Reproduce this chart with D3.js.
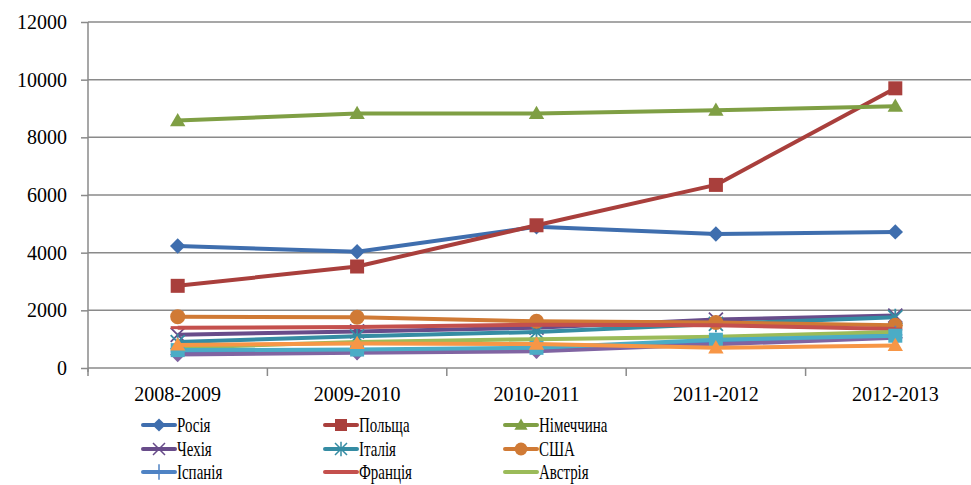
<!DOCTYPE html>
<html>
<head>
<meta charset="utf-8">
<script src="https://cdn.jsdelivr.net/npm/d3@7"></script>
<style>
  body { margin: 0; background: #fff; }
  svg { display: block; }
</style>
</head>
<body>
<div id="chart"></div>
<script>
// Years (categories)
const years = ["2008-2009", "2009-2010", "2010-2011", "2011-2012", "2012-2013"];
const yTicks = [0, 2000, 4000, 6000, 8000, 10000, 12000];

// Series names (last three rows of the legend are cut off in the picture)
const names = ["Росія", "Польща", "Німеччина", "Чехія", "Італія", "США",
               "Іспанія", "Франція", "Австрія", "", "", ""];

// Values per series
const russia  = [4230, 4030, 4900, 4650, 4720];
const poland  = [2850, 3520, 4950, 6350, 9700];
const germany = [8580, 8830, 8830, 8940, 9080];
const czech   = [1150, 1270, 1400, 1680, 1820];
const italy   = [ 900, 1100, 1250, 1530, 1760];
const usa     = [1780, 1760, 1620, 1580, 1480];
const spain   = [ 560,  600,  650,  900, 1150];
const france  = [1400, 1420, 1500, 1480, 1350];
const austria = [ 700,  900, 1000, 1080, 1250];
const extra10 = [ 470,  530,  580,  820, 1050];
const extra11 = [ 620,  640,  700,  980, 1120];
const extra12 = [ 800,  850,  830,  700,  780];

const values = [russia, poland, germany, czech, italy, usa,
                spain, france, austria, extra10, extra11, extra12];

const colors = ["#3F6EAE", "#A93F3C", "#7F9F44", "#684C8A", "#358CA3", "#D07A35",
                "#4F83C4", "#C4504D", "#9BBB59", "#8064A2", "#4BACC6", "#F79646"];
const markers = ["diamond", "square", "triangle", "x", "asterisk", "circle",
                 "plus", "dash", "none", "diamond", "square", "triangle"];

const width = 971, height = 485;
const margin = { left: 88, top: 22 };
const plotBottom = 368;
const bandW = 179.4;
const serif = "'Liberation Serif', 'Times New Roman', serif";

const svg = d3.select("#chart").append("svg")
  .attr("width", width)
  .attr("height", height);

const x = d3.scaleBand()
  .domain(years)
  .range([margin.left, margin.left + bandW * years.length]);

const y = d3.scaleLinear()
  .domain([0, 12000])
  .range([plotBottom, margin.top]);

const grey = "#8a8a8a";

// gridlines
svg.append("g")
  .selectAll("line")
  .data(yTicks.filter(d => d > 0))
  .join("line")
  .attr("x1", margin.left).attr("x2", width)
  .attr("y1", d => y(d)).attr("y2", d => y(d))
  .attr("stroke", grey).attr("stroke-width", 1.5);

// y axis
const yAxis = svg.append("g")
  .attr("transform", `translate(${margin.left},0)`)
  .call(d3.axisLeft(y).tickValues(yTicks).tickSize(7).tickPadding(14).tickFormat(d3.format("d")));
yAxis.select(".domain").attr("stroke", grey).attr("stroke-width", 1.5)
  .attr("d", `M0,${y(12000)}V${plotBottom + 4}`);
yAxis.selectAll(".tick line").attr("stroke", grey).attr("stroke-width", 1.5);
yAxis.selectAll(".tick text")
  .style("font-family", serif).style("font-size", "20px").attr("fill", "#000");

// x axis
const xAxis = svg.append("g")
  .attr("transform", `translate(0,${plotBottom})`)
  .call(d3.axisBottom(x).tickSize(0).tickPadding(19));
xAxis.select(".domain").attr("stroke", grey).attr("stroke-width", 1.5)
  .attr("d", `M${margin.left},0H${width}`);
xAxis.selectAll(".tick text")
  .style("font-family", serif).style("font-size", "20px").attr("fill", "#000");
// category boundary ticks
svg.append("g")
  .selectAll("line")
  .data(years)
  .join("line")
  .attr("x1", d => x(d)).attr("x2", d => x(d))
  .attr("y1", plotBottom).attr("y2", plotBottom + 8)
  .attr("stroke", grey).attr("stroke-width", 1.5);

const cx = d => x(d) + x.bandwidth() / 2;

function markerPath(type, s) {
  const h = s / 2;
  switch (type) {
    case "diamond": return `M0,${-h * 1.1}L${h * 1.1},0L0,${h * 1.1}L${-h * 1.1},0Z`;
    case "square": return `M${-h},${-h}H${h}V${h}H${-h}Z`;
    case "triangle": return `M0,${-h * 1.1}L${h * 1.1},${h * 0.8}L${-h * 1.1},${h * 0.8}Z`;
    case "circle": return d3.symbol(d3.symbolCircle, Math.PI * h * h * 1.15)();
    case "x": return `M${-h},${-h}L${h},${h}M${-h},${h}L${h},${-h}`;
    case "asterisk": return `M${-h},${-h}L${h},${h}M${-h},${h}L${h},${-h}M0,${-h * 1.2}V${h * 1.2}`;
    case "plus": return `M0,${-h * 1.3}V${h * 1.3}M${-h},0H${h}`;
    case "dash": return `M${-h},-1.5H${h}V1.5H${-h}Z`;
    default: return "";
  }
}
const stroked = t => t === "x" || t === "asterisk" || t === "plus";

const line = d3.line().x((d, i) => cx(years[i])).y(d => y(d));

const series = values.map((v, i) => ({ name: names[i], values: v, color: colors[i], marker: markers[i] }));

series.forEach(s => {
  const g = svg.append("g");
  g.append("path")
    .attr("d", line(s.values))
    .attr("fill", "none")
    .attr("stroke", s.color)
    .attr("stroke-width", 4)
    .attr("stroke-linejoin", "round");
  g.selectAll("path.m")
    .data(s.values)
    .join("path")
    .attr("class", "m")
    .attr("transform", (d, i) => `translate(${cx(years[i])},${y(d)})`)
    .attr("d", markerPath(s.marker, 14))
    .attr("fill", stroked(s.marker) ? "none" : s.color)
    .attr("stroke", stroked(s.marker) ? s.color : "none")
    .attr("stroke-width", 1.8);
});

// legend (three columns), text is horizontally condensed like the original
const legendCols = [143, 325, 505];
const legendRows = [425, 449, 472];
const legend = svg.append("g");
series.filter(s => s.name).forEach((s, i) => {
  const lx = legendCols[i % 3];
  const ly = legendRows[Math.floor(i / 3)];
  const g = legend.append("g").attr("transform", `translate(${lx},${ly})`);
  g.append("line")
    .attr("x1", 0).attr("x2", 32)
    .attr("stroke", s.color).attr("stroke-width", 4).attr("stroke-linecap", "round");
  g.append("path")
    .attr("transform", "translate(16,0)")
    .attr("d", markerPath(s.marker, 12))
    .attr("fill", stroked(s.marker) ? "none" : s.color)
    .attr("stroke", stroked(s.marker) ? s.color : "none")
    .attr("stroke-width", 1.5);
  const t = g.append("text")
    .attr("x", 34).attr("y", 7)
    .style("font-family", serif)
    .style("font-size", "22px")
    .attr("fill", "#000")
    .text(s.name);
  const w = t.node().getComputedTextLength();
  t.attr("textLength", w * 0.68).attr("lengthAdjust", "spacingAndGlyphs");
});
</script>
</body>
</html>
